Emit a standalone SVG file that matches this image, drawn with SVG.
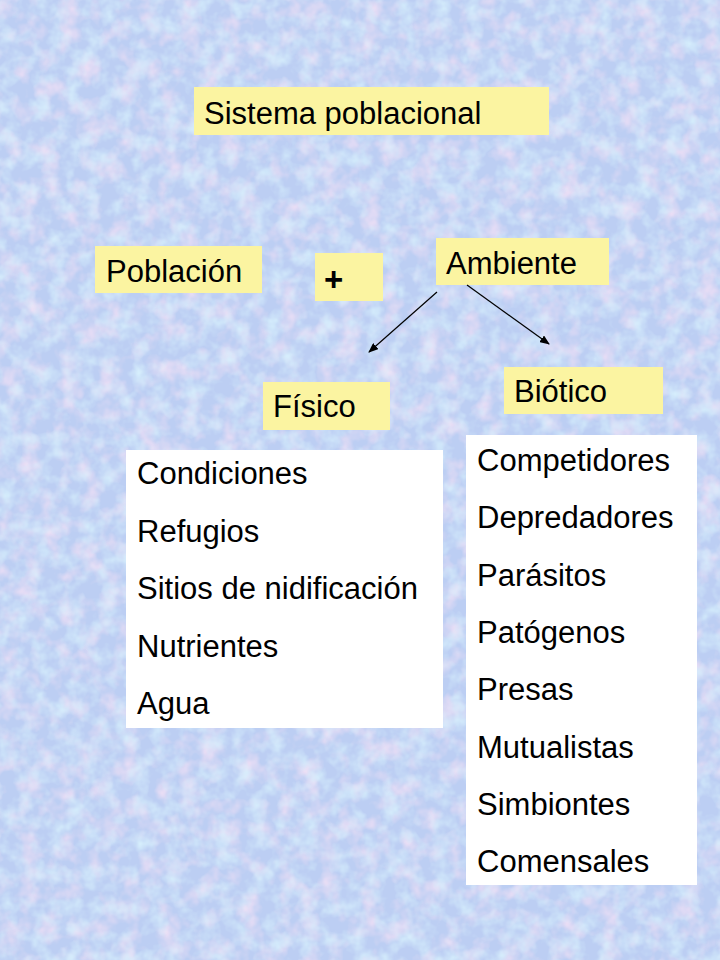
<svg xmlns="http://www.w3.org/2000/svg" width="720" height="960" viewBox="0 0 720 960">
<defs>
<style>
.y{fill:#fbf4a1}
.w{fill:#ffffff}
text{font-family:"Liberation Sans",Arial,sans-serif;font-size:31px;fill:#000}
.b{font-weight:bold;font-size:33px}
.c line{stroke:#000;stroke-width:1.2;marker-end:url(#ah)}
</style>
<marker id="ah" markerWidth="10" markerHeight="8" refX="9" refY="4" orient="auto" markerUnits="userSpaceOnUse">
<path d="M0,0 L10,4 L0,8 z" fill="#000"/>
</marker>
<filter id="pink" x="0" y="0" width="100%" height="100%">
<feTurbulence type="fractalNoise" baseFrequency="0.05" numOctaves="3" seed="4"/>
<feColorMatrix values="0 0 0 0 0.92  0 0 0 0 0.76  0 0 0 0 0.92  1.8 0 0 0 -0.78"/>
</filter>
<filter id="cyan" x="0" y="0" width="100%" height="100%">
<feTurbulence type="fractalNoise" baseFrequency="0.06" numOctaves="3" seed="9"/>
<feColorMatrix values="0 0 0 0 0.68  0 0 0 0 0.87  0 0 0 0 0.98  0 1.8 0 0 -0.75"/>
</filter>
</defs>
<g id="background">
<rect width="720" height="960" fill="#bccef3"/>
<rect width="720" height="960" filter="url(#pink)"/>
<rect width="720" height="960" filter="url(#cyan)"/>
</g>
<g id="sistema"><rect class="y" x="194" y="87" width="355" height="48"/><text x="204" y="124">Sistema poblacional</text></g>
<g id="poblacion"><rect class="y" x="95" y="246" width="167" height="47"/><text x="106" y="282">Población</text></g>
<g id="plus"><rect class="y" x="315" y="253" width="68" height="48"/><text class="b" x="324" y="291">+</text></g>
<g id="ambiente"><rect class="y" x="436" y="238" width="173" height="47"/><text x="446" y="274">Ambiente</text></g>
<g id="fisico"><rect class="y" x="263" y="382" width="127" height="48"/><text x="273" y="417">Físico</text></g>
<g id="biotico"><rect class="y" x="504" y="367" width="159" height="47"/><text x="514" y="402">Biótico</text></g>
<g id="fisico-list"><rect class="w" x="126" y="450" width="317" height="278"/>
<text x="137" y="484">Condiciones</text>
<text x="137" y="542">Refugios</text>
<text x="137" y="599">Sitios de nidificación</text>
<text x="137" y="657">Nutrientes</text>
<text x="137" y="714">Agua</text>
</g>
<g id="biotico-list"><rect class="w" x="466" y="435" width="231" height="450"/>
<text x="477" y="471">Competidores</text>
<text x="477" y="528">Depredadores</text>
<text x="477" y="586">Parásitos</text>
<text x="477" y="643">Patógenos</text>
<text x="477" y="700">Presas</text>
<text x="477" y="758">Mutualistas</text>
<text x="477" y="815">Simbiontes</text>
<text x="477" y="872">Comensales</text>
</g>
<g id="connectors" class="c">
<line x1="437" y1="292" x2="369" y2="352"/>
<line x1="467" y1="285" x2="549" y2="344"/>
</g>
</svg>
